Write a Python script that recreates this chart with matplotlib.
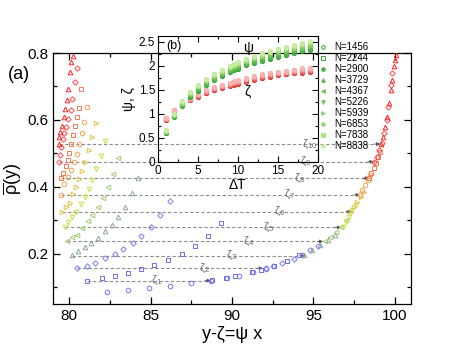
import matplotlib
matplotlib.use('Agg')
import matplotlib.pyplot as plt
from matplotlib.ticker import MultipleLocator
from matplotlib.lines import Line2D

plt.rcParams['font.family'] = ['Liberation Sans', 'DejaVu Sans']
plt.rcParams['mathtext.fontset'] = 'custom'
plt.rcParams['mathtext.rm'] = 'Liberation Sans'
plt.rcParams['mathtext.it'] = 'Liberation Sans:italic'
plt.rcParams['mathtext.default'] = 'regular'

# ---- main panel (a): one series per zeta level, left branch + collapsed curve
# level 0 .. 10 (level 0 has no left branch)
x0 = [82.3, 83.6, 84.9, 86.2, 87.5, 88.7, 89.7, 90.4, 91.3, 92.1]
y0 = [0.087, 0.092, 0.098, 0.104, 0.113, 0.120, 0.128, 0.134, 0.146, 0.155]

x1 = [81.1, 82.0, 82.8, 83.6, 84.4, 85.2, 86.05, 86.9, 87.7, 88.5, 89.35,
      88.8, 89.6, 90.2, 91.2, 91.8, 92.6, 93.4, 94.1]
y1 = [0.119, 0.128, 0.134, 0.143, 0.155, 0.167, 0.182, 0.199, 0.222, 0.252, 0.293,
      0.122, 0.128, 0.134, 0.146, 0.152, 0.165, 0.180, 0.195]

x2 = [80.5, 81.1, 81.6, 82.2, 82.8, 83.3, 83.9, 84.4, 85.0, 85.6, 86.2,
      92.1, 92.5, 93.1, 93.8, 94.3, 94.8, 95.3]
y2 = [0.158, 0.164, 0.173, 0.188, 0.200, 0.215, 0.233, 0.254, 0.280, 0.316, 0.358,
      0.158, 0.163, 0.172, 0.186, 0.197, 0.210, 0.222]

x3 = [80.14, 80.55, 80.94, 81.35, 81.77, 82.2, 82.6, 83.0, 83.4, 83.84, 84.25,
      94.4, 94.9, 95.4, 95.9, 96.3]
y3 = [0.195, 0.209, 0.220, 0.232, 0.247, 0.267, 0.287, 0.311, 0.339, 0.381, 0.426,
      0.196, 0.210, 0.225, 0.240, 0.255]

x4 = [79.88, 80.18, 80.45, 80.8, 81.15, 81.4, 81.78, 82.1, 82.4, 82.7, 83.0,
      95.7, 96.0, 96.4, 96.7, 97.0]
y4 = [0.237, 0.250, 0.257, 0.277, 0.298, 0.316, 0.341, 0.368, 0.400, 0.439, 0.486,
      0.237, 0.250, 0.265, 0.280, 0.300]

x5 = [79.73, 79.92, 80.14, 80.43, 80.7, 80.94, 81.2, 81.4, 81.66, 81.93, 82.2,
      96.8, 97.0, 97.2, 97.4, 97.6]
y5 = [0.279, 0.296, 0.311, 0.326, 0.350, 0.371, 0.395, 0.421, 0.454, 0.493, 0.537,
      0.279, 0.295, 0.310, 0.330, 0.345]

x6 = [79.57, 79.8, 80.02, 80.23, 80.43, 80.62, 80.8, 80.96, 81.2, 81.4, 81.64,
      97.3, 97.5, 97.7, 97.9, 98.1]
y6 = [0.326, 0.340, 0.353, 0.378, 0.401, 0.424, 0.446, 0.475, 0.510, 0.550, 0.590,
      0.326, 0.340, 0.355, 0.370, 0.385]

x7 = [79.5, 79.7, 79.9, 80.1, 80.3, 80.45, 80.6, 80.76, 80.92, 81.07,
      97.85, 98.0, 98.2, 98.35, 98.5]
y7 = [0.376, 0.409, 0.431, 0.451, 0.474, 0.498, 0.528, 0.560, 0.595, 0.638,
      0.376, 0.390, 0.405, 0.420, 0.435]

x8 = [79.5, 79.6, 79.8, 79.9, 79.96, 80.1, 80.2, 80.37, 80.45, 80.57, 80.72,
      98.4, 98.55, 98.7, 98.85, 99.0, 99.1]
y8 = [0.427, 0.441, 0.461, 0.481, 0.501, 0.528, 0.555, 0.582, 0.608, 0.635, 0.692,
      0.426, 0.440, 0.455, 0.470, 0.490, 0.505]

x9 = [79.38, 79.43, 79.5, 79.6, 79.7, 79.8, 79.9, 80.1, 80.17, 80.37, 80.45,
      98.75, 98.9, 99.05, 99.2, 99.35, 99.5, 99.6, 99.75, 99.85]
y9 = [0.474, 0.496, 0.520, 0.542, 0.560, 0.580, 0.603, 0.630, 0.663, 0.714, 0.756,
      0.475, 0.490, 0.510, 0.530, 0.560, 0.600, 0.640, 0.705, 0.740]

x10 = [79.34, 79.38, 79.45, 79.55, 79.69, 79.75, 79.86, 79.94, 80.04, 80.1, 80.25,
       99.15, 99.3, 99.4, 99.55, 99.65, 99.75, 99.85, 99.95, 100.0, 100.05]
y10 = [0.528, 0.549, 0.565, 0.582, 0.609, 0.633, 0.660, 0.693, 0.744, 0.774, 0.791,
       0.528, 0.550, 0.580, 0.610, 0.650, 0.690, 0.720, 0.760, 0.780, 0.795]

series_x = [x0, x1, x2, x3, x4, x5, x6, x7, x8, x9, x10]
series_y = [y0, y1, y2, y3, y4, y5, y6, y7, y8, y9, y10]
series_mk = ['o', 's', 'D', '^', '<', 'v', '>', 'o', 's', 'D', '^']
series_col = ['#7474ff', '#6c6cf4', '#7c7cf0', '#88aa98', '#a2cc78', '#c8de48',
              '#e2c244', '#f0a052', '#f27a52', '#f84a4a', '#ff2424']

# zeta levels, where the dashed arrows end, and label x positions
zeta = [0.120, 0.157, 0.194, 0.237, 0.279, 0.326, 0.376, 0.426, 0.475, 0.528]
arrow_end = [88.7, 91.9, 94.5, 95.6, 96.7, 97.35, 97.85, 98.4, 98.7, 99.1]
label_x = [85.05, 88.0, 89.6, 90.7, 91.9, 92.6, 93.2, 93.8, 94.15, 94.3]

# ---- inset (b): psi and zeta vs Delta T for several N
dT = [0, 1, 2, 3, 4, 5, 6, 7, 8, 9, 9.5, 10, 11, 12, 13, 14, 15, 16, 17, 18, 19]
N_labels = ['N=1456', 'N=2244', 'N=2900', 'N=3729', 'N=4367',
            'N=5226', 'N=5939', 'N=6853', 'N=7838', 'N=8838']
psi_1456 = [0, 0.60, 0.94, 1.17, 1.36, 1.48, 1.60, 1.70, 1.79, 1.87, 1.91, 1.94, 2.01, 2.06, 2.11, 2.15, 2.19, 2.23, 2.26, 2.30, 2.33]
psi_2244 = [0, 0.61, 0.95, 1.18, 1.37, 1.50, 1.62, 1.72, 1.81, 1.89, 1.93, 1.96, 2.03, 2.08, 2.13, 2.17, 2.21, 2.25, 2.28, 2.32, 2.35]
psi_2900 = [0, 0.62, 0.96, 1.19, 1.39, 1.52, 1.63, 1.74, 1.83, 1.91, 1.94, 1.98, 2.05, 2.10, 2.15, 2.19, 2.23, 2.27, 2.31, 2.34, 2.37]
psi_3729 = [0, 0.63, 0.97, 1.20, 1.40, 1.53, 1.65, 1.75, 1.84, 1.92, 1.96, 1.99, 2.06, 2.12, 2.17, 2.21, 2.25, 2.29, 2.33, 2.36, 2.39]
psi_4367 = [0, 0.63, 0.97, 1.21, 1.41, 1.55, 1.66, 1.77, 1.86, 1.94, 1.97, 2.01, 2.08, 2.13, 2.18, 2.23, 2.27, 2.31, 2.35, 2.38, 2.41]
psi_5226 = [0, 0.64, 0.98, 1.22, 1.42, 1.56, 1.68, 1.78, 1.87, 1.95, 1.99, 2.02, 2.09, 2.15, 2.20, 2.24, 2.29, 2.33, 2.37, 2.40, 2.43]
psi_5939 = [0, 0.64, 0.98, 1.23, 1.43, 1.57, 1.69, 1.79, 1.88, 1.96, 2.00, 2.03, 2.11, 2.16, 2.21, 2.26, 2.30, 2.35, 2.38, 2.42, 2.45]
psi_6853 = [0, 0.65, 0.99, 1.24, 1.44, 1.58, 1.70, 1.81, 1.90, 1.98, 2.01, 2.05, 2.12, 2.18, 2.23, 2.28, 2.32, 2.36, 2.40, 2.44, 2.47]
psi_7838 = [0, 0.65, 0.99, 1.25, 1.45, 1.59, 1.71, 1.82, 1.91, 1.99, 2.02, 2.06, 2.14, 2.19, 2.24, 2.29, 2.34, 2.38, 2.42, 2.46, 2.49]
psi_8838 = [0, 0.66, 1.00, 1.26, 1.46, 1.60, 1.72, 1.83, 1.92, 2.00, 2.03, 2.07, 2.15, 2.20, 2.26, 2.31, 2.35, 2.40, 2.44, 2.47, 2.51]

zeta_1456 = [0, 0.88, 1.04, 1.20, 1.28, 1.36, 1.43, 1.49, 1.54, 1.59, 1.61, 1.63, 1.67, 1.71, 1.74, 1.77, 1.80, 1.82, 1.84, 1.86, 1.87]
zeta_2244 = [0, 0.88, 1.05, 1.21, 1.29, 1.37, 1.44, 1.50, 1.55, 1.60, 1.62, 1.64, 1.68, 1.72, 1.75, 1.78, 1.81, 1.83, 1.85, 1.87, 1.88]
zeta_2900 = [0, 0.89, 1.05, 1.21, 1.29, 1.38, 1.45, 1.51, 1.56, 1.61, 1.63, 1.65, 1.69, 1.73, 1.76, 1.79, 1.82, 1.84, 1.86, 1.88, 1.89]
zeta_3729 = [0, 0.89, 1.06, 1.22, 1.30, 1.38, 1.46, 1.52, 1.57, 1.61, 1.64, 1.66, 1.70, 1.74, 1.77, 1.80, 1.83, 1.85, 1.87, 1.89, 1.90]
zeta_4367 = [0, 0.90, 1.06, 1.22, 1.31, 1.39, 1.46, 1.52, 1.57, 1.62, 1.64, 1.67, 1.71, 1.75, 1.78, 1.81, 1.84, 1.86, 1.88, 1.90, 1.91]
zeta_5226 = [0, 0.90, 1.07, 1.23, 1.31, 1.40, 1.47, 1.53, 1.58, 1.63, 1.65, 1.67, 1.72, 1.75, 1.79, 1.82, 1.84, 1.87, 1.89, 1.91, 1.92]
zeta_5939 = [0, 0.91, 1.07, 1.23, 1.32, 1.40, 1.47, 1.54, 1.59, 1.63, 1.66, 1.68, 1.72, 1.76, 1.80, 1.82, 1.85, 1.88, 1.90, 1.92, 1.93]
zeta_6853 = [0, 0.91, 1.08, 1.24, 1.32, 1.41, 1.48, 1.54, 1.59, 1.64, 1.66, 1.69, 1.73, 1.77, 1.80, 1.83, 1.86, 1.88, 1.91, 1.93, 1.94]
zeta_7838 = [0, 0.92, 1.08, 1.24, 1.33, 1.41, 1.49, 1.55, 1.60, 1.65, 1.67, 1.69, 1.74, 1.78, 1.81, 1.84, 1.87, 1.89, 1.92, 1.94, 1.95]
zeta_8838 = [0, 0.92, 1.09, 1.25, 1.33, 1.42, 1.49, 1.56, 1.61, 1.65, 1.68, 1.70, 1.74, 1.78, 1.82, 1.85, 1.88, 1.90, 1.92, 1.95, 1.96]

psi_all = [psi_1456, psi_2244, psi_2900, psi_3729, psi_4367,
           psi_5226, psi_5939, psi_6853, psi_7838, psi_8838]
zeta_all = [zeta_1456, zeta_2244, zeta_2900, zeta_3729, zeta_4367,
            zeta_5226, zeta_5939, zeta_6853, zeta_7838, zeta_8838]
N_mk = ['o', 's', 'o', '^', '<', 'v', '>', 'o', 's', 'o']
N_fill = [False, False, True, True, True, True, True, True, True, True]
green_col = ['#2e9e2e', '#3aa83a', '#48b040', '#58b84a', '#68c052',
             '#78c85c', '#8ad066', '#9cd872', '#b0e282', '#c6eca0']
red_col = ['#d83030', '#de3c3c', '#e44848', '#e85656', '#ec6464',
           '#f07272', '#f28282', '#f49292', '#f6a2a2', '#f8b2b2']

fig = plt.figure(figsize=(4.63, 3.58), dpi=100)
ax = fig.add_axes([0.1145, 0.1508, 0.7732, 0.7011])

for i in range(len(zeta)):
    z = zeta[i]
    xs = series_x[i + 1][0]
    ax.plot([xs, arrow_end[i]], [z, z], ls=(0, (3, 2)), color='#8c8c8c', lw=0.8, zorder=1)
    ax.annotate('', xy=(arrow_end[i], z), xytext=(arrow_end[i] - 0.35, z),
                arrowprops=dict(arrowstyle='-|>', color='#555555', lw=0.6,
                                mutation_scale=5, shrinkA=0, shrinkB=0))
    ax.text(label_x[i], z, r'$\zeta_{%d}$' % (i + 1), color='#6a6a6a', fontsize=8,
            ha='left', va='center', zorder=2)

for xs, ys, mk, c in zip(series_x, series_y, series_mk, series_col):
    ms = 2.8 if mk == 'D' else 3.3
    ax.plot(xs, ys, ls='none', marker=mk, ms=ms, mfc='none', mec=c, mew=0.7, zorder=3)

ax.set_xlim(79, 101)
ax.set_ylim(0.05, 0.8)
ax.xaxis.set_major_locator(MultipleLocator(5))
ax.xaxis.set_minor_locator(MultipleLocator(2.5))
ax.yaxis.set_major_locator(MultipleLocator(0.2))
ax.yaxis.set_minor_locator(MultipleLocator(0.1))
ax.tick_params(which='both', direction='in', top=True, right=True, labelsize=11)
ax.tick_params(which='major', length=5, width=0.9)
ax.tick_params(which='minor', length=3, width=0.9)
ax.set_yticks([0.2, 0.4, 0.6, 0.8])
ax.set_yticklabels(['0.2', '0.4', '0.6', '0.8'])
ax.set_xlabel('y-ζ=ψ x', fontsize=13, labelpad=2)
ax.set_ylabel(r'$\overline{\rho}$(y)', fontsize=13, labelpad=2)
for s in ax.spines.values():
    s.set_linewidth(0.9)
fig.text(0.018, 0.78, '(a)', fontsize=13)

# inset
axi = fig.add_axes([0.341, 0.5475, 0.3456, 0.352])
axi.set_facecolor('none')
for zs, c, mk, f in zip(zeta_all, red_col, N_mk, N_fill):
    axi.plot(dT, zs, ls='none', marker='o', ms=3.0, mfc=c if f else 'none', mec=c, mew=0.7)
handles = []
for ps, c, mk, f in zip(psi_all, green_col, N_mk, N_fill):
    axi.plot(dT, ps, ls='none', marker='o', ms=3.0, mfc=c if f else 'none', mec=c, mew=0.7)
    handles.append(Line2D([], [], ls='none', marker=mk, ms=2.6,
                          mfc=c if f else 'none', mec=c, mew=0.7))
axi.set_xlim(0, 20)
axi.set_ylim(0, 2.62)
axi.xaxis.set_major_locator(MultipleLocator(5))
axi.xaxis.set_minor_locator(MultipleLocator(2.5))
axi.yaxis.set_major_locator(MultipleLocator(0.5))
axi.yaxis.set_minor_locator(MultipleLocator(0.25))
axi.set_yticks([0, 0.5, 1, 1.5, 2, 2.5])
axi.set_yticklabels(['0', '0.5', '1', '1.5', '2', '2.5'])
axi.tick_params(which='both', direction='in', top=True, right=True, labelsize=8.5, pad=2)
axi.tick_params(which='major', length=4, width=0.8)
axi.tick_params(which='minor', length=2, width=0.8)
axi.set_xlabel('ΔT', fontsize=10, labelpad=1)
axi.set_ylabel('ψ, ζ', fontsize=10, labelpad=2)
axi.text(1.0, 2.35, '(b)', fontsize=9)
axi.text(10.6, 2.28, 'ψ', fontsize=10)
axi.text(10.8, 1.38, 'ζ', fontsize=10)

fig.legend(handles, N_labels, loc='upper left', bbox_to_anchor=(0.688, 0.882),
           frameon=False, fontsize=7, handlelength=1.0, handletextpad=0.6,
           labelspacing=0.1, borderaxespad=0, borderpad=0)

fig.savefig('out.png', dpi=100)
